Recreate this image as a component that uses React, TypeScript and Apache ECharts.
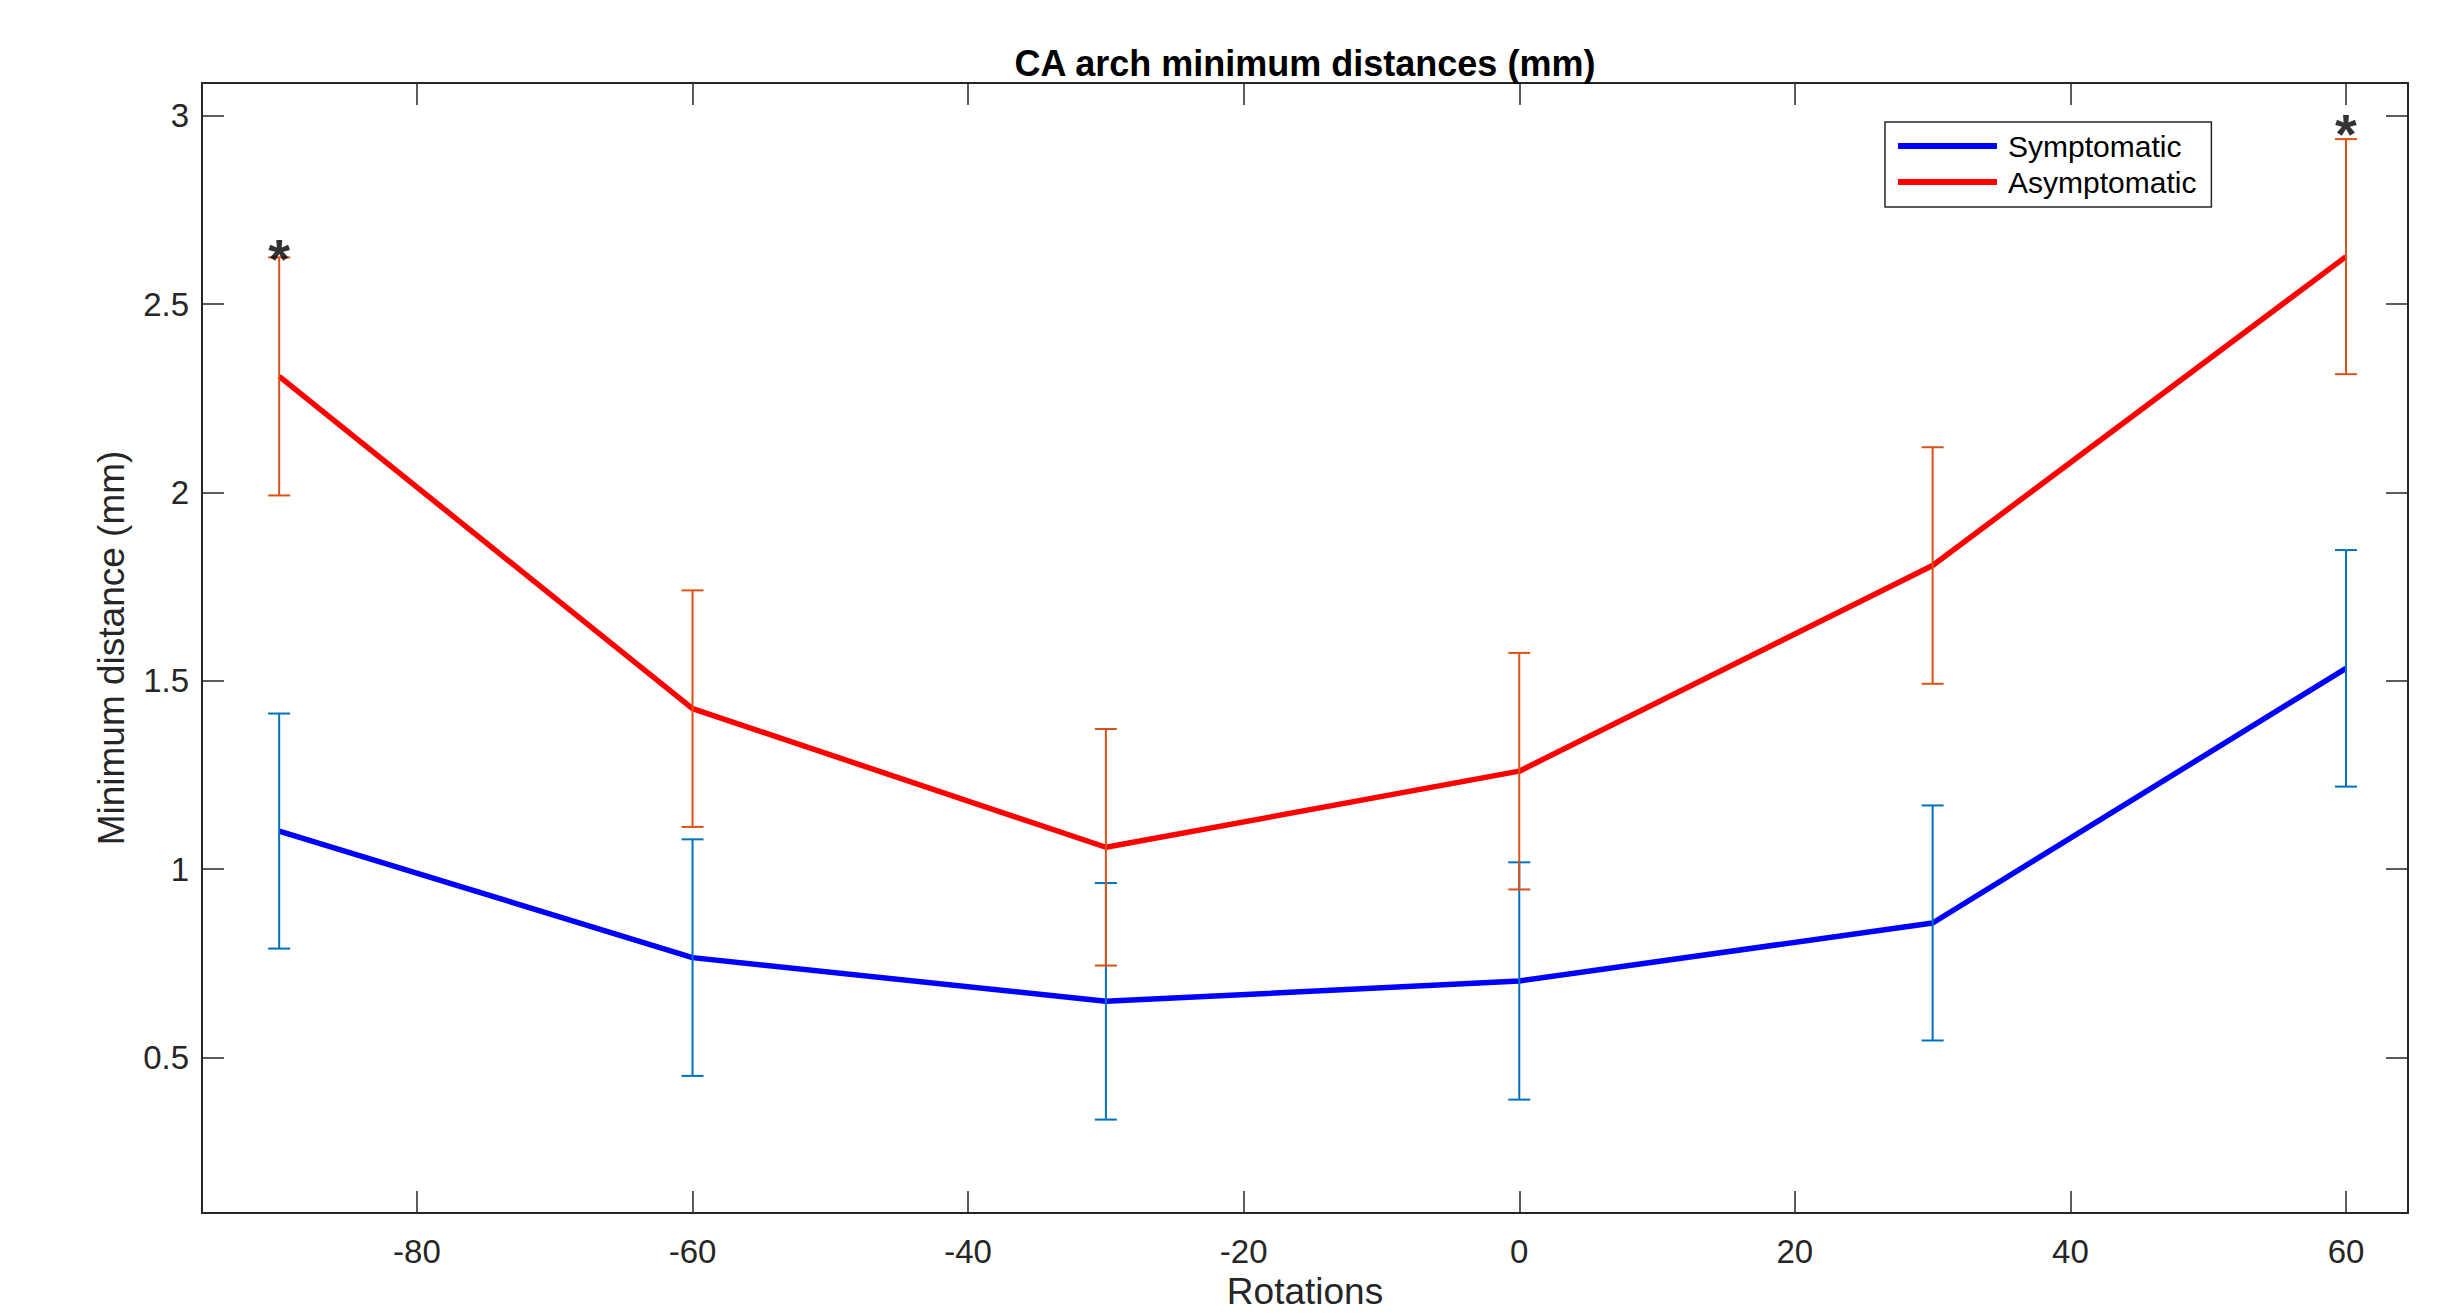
import React, { useEffect, useRef } from "react";
import * as echarts from "echarts";

// ---- data ----
const rotations = [-90, -60, -30, 0, 30, 60];
const symptomatic = [1.101, 0.765, 0.649, 0.703, 0.857, 1.533];
const symptomaticErr = [0.312, 0.314, 0.314, 0.315, 0.312, 0.314];
const asymptomatic = [2.308, 1.426, 1.058, 1.260, 1.806, 2.626];
const asymptomaticErr = [0.316, 0.314, 0.314, 0.314, 0.314, 0.312];
const sigX = [-90, 60];
const sigY = [2.653, 2.986];
const xTicks = [-80, -60, -40, -20, 0, 20, 40, 60];
const yTicks = [0.5, 1, 1.5, 2, 2.5, 3];
const seriesNames = ["Symptomatic", "Asymptomatic"];
const titleText = "CA arch minimum distances (mm)";
const xName = "Rotations";
const yName = "Minimum distance (mm)";

const FONT = "'Liberation Sans', Arial, Helvetica, sans-serif";
const AXIS = "#262626";

function errorSeries(name: string, vals: number[], errs: number[], color: string, z: number) {
  return {
    name,
    type: "custom",
    z,
    clip: false,
    encode: { x: 0, y: [1, 2] },
    data: rotations.map((x, i) => [x, vals[i] - errs[i], vals[i] + errs[i]]),
    renderItem: (params: any, api: any) => {
      const x = api.value(0);
      const lo = api.coord([x, api.value(1)]);
      const hi = api.coord([x, api.value(2)]);
      const hw = 11;
      const st = { stroke: color, lineWidth: 2 };
      return {
        type: "group",
        children: [
          { type: "line", shape: { x1: lo[0], y1: lo[1], x2: hi[0], y2: hi[1] }, style: st },
          { type: "line", shape: { x1: lo[0] - hw, y1: lo[1], x2: lo[0] + hw, y2: lo[1] }, style: st },
          { type: "line", shape: { x1: hi[0] - hw, y1: hi[1], x2: hi[0] + hw, y2: hi[1] }, style: st },
        ],
      };
    },
  };
}

export default function App() {
  const ref = useRef<HTMLDivElement>(null);
  useEffect(() => {
    if (!ref.current) return;
    const chart = echarts.init(ref.current, undefined, { renderer: "svg" });
    const xMin = -95.6, xMax = 64.5, yMin = 0.087, yMax = 3.087;
    const baseAxisLine = { show: true, onZero: false, lineStyle: { color: AXIS, width: 2 } };
    chart.setOption({
      animation: false,
      backgroundColor: "#ffffff",
      title: {
        text: titleText,
        left: 1305,
        top: 45,
        padding: 0,
        textAlign: "center",
        textStyle: { fontFamily: FONT, fontSize: 36, fontWeight: "bold", color: "#000" },
      },
      legend: {
        data: seriesNames,
        orient: "vertical",
        left: 1885,
        top: 122,
        padding: [9, 15, 10, 13],
        itemGap: 6,
        itemWidth: 99,
        itemHeight: 6,
        icon: "rect",
        borderColor: AXIS,
        borderWidth: 1.5,
        backgroundColor: "#ffffff",
        textStyle: { fontFamily: FONT, fontSize: 30, color: "#000", padding: [0, 0, 0, 6] },
      },
      grid: { left: 202, right: 44, top: 83, bottom: 97, containLabel: false },
      xAxis: [
        {
          type: "value",
          position: "bottom",
          min: xMin,
          max: xMax,
          name: xName,
          nameLocation: "middle",
          nameGap: 60,
          nameTextStyle: { fontFamily: FONT, fontSize: 37, color: AXIS },
          axisLine: baseAxisLine,
          axisTick: { show: true, inside: true, length: 22, customValues: xTicks, lineStyle: { color: AXIS, width: 1.5 } },
          axisLabel: { show: true, customValues: xTicks, margin: 22, fontFamily: FONT, fontSize: 33, color: AXIS },
          splitLine: { show: false },
        },
        {
          type: "value",
          position: "top",
          min: xMin,
          max: xMax,
          axisLine: baseAxisLine,
          axisTick: { show: true, inside: true, length: 22, customValues: xTicks, lineStyle: { color: AXIS, width: 1.5 } },
          axisLabel: { show: false },
          splitLine: { show: false },
        },
      ],
      yAxis: [
        {
          type: "value",
          position: "left",
          min: yMin,
          max: yMax,
          name: yName,
          nameLocation: "middle",
          nameGap: 72,
          nameTextStyle: { fontFamily: FONT, fontSize: 37, color: AXIS },
          axisLine: baseAxisLine,
          axisTick: { show: true, inside: true, length: 22, customValues: yTicks, lineStyle: { color: AXIS, width: 1.5 } },
          axisLabel: { show: true, customValues: yTicks, margin: 13, fontFamily: FONT, fontSize: 33, color: AXIS },
          splitLine: { show: false },
        },
        {
          type: "value",
          position: "right",
          min: yMin,
          max: yMax,
          axisLine: baseAxisLine,
          axisTick: { show: true, inside: true, length: 22, customValues: yTicks, lineStyle: { color: AXIS, width: 1.5 } },
          axisLabel: { show: false },
          splitLine: { show: false },
        },
      ],
      series: [
        {
          name: seriesNames[0],
          type: "line",
          z: 2,
          symbol: "none",
          data: rotations.map((x, i) => [x, symptomatic[i]]),
          lineStyle: { color: "#0000ff", width: 5.5 },
          itemStyle: { color: "#0000ff" },
        },
        errorSeries("symErr", symptomatic, symptomaticErr, "#0072BD", 3),
        {
          name: seriesNames[1],
          type: "line",
          z: 4,
          symbol: "none",
          data: rotations.map((x, i) => [x, asymptomatic[i]]),
          lineStyle: { color: "#ff0000", width: 5.5 },
          itemStyle: { color: "#ff0000" },
        },
        errorSeries("asymErr", asymptomatic, asymptomaticErr, "#D95319", 5),
        {
          name: "significance",
          type: "scatter",
          z: 6,
          symbolSize: 1,
          itemStyle: { color: "rgba(0,0,0,0)" },
          data: sigX.map((x, i) => [x, sigY[i]]),
          label: {
            show: true,
            position: "inside",
            formatter: "*",
            offset: [0, 12],
            fontFamily: FONT,
            fontSize: 56,
            fontWeight: "bold",
            color: "#000",
          },
        },
      ],
    });
    return () => chart.dispose();
  }, []);
  return (
    <div
      ref={ref}
      style={{ position: "fixed", left: 0, top: 0, width: 2452, height: 1315, background: "#fff" }}
    />
  );
}
